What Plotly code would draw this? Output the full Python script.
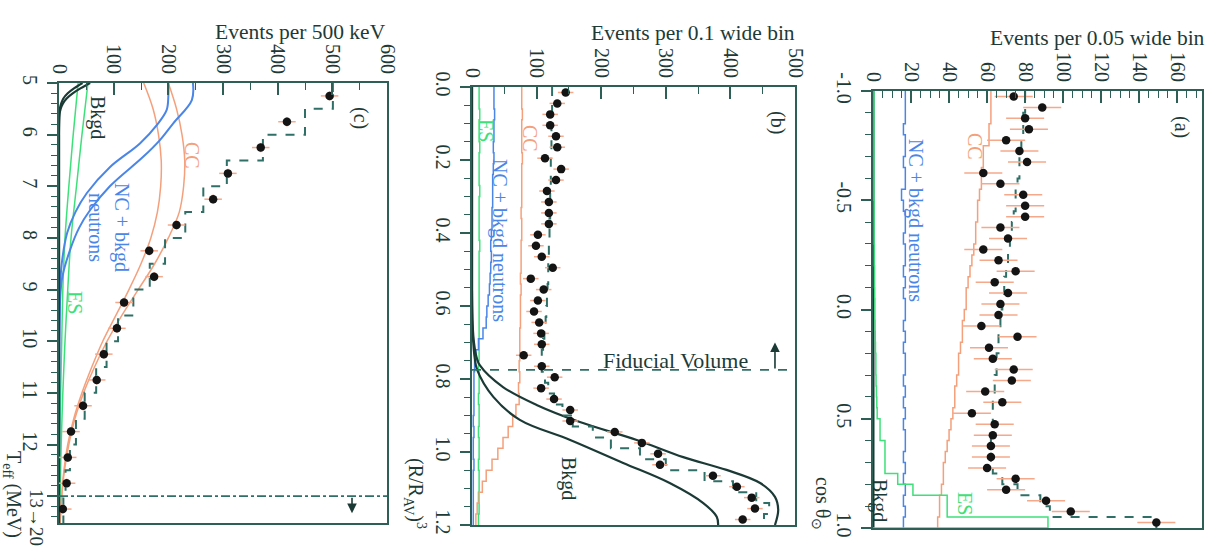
import numpy as np
import plotly.graph_objects as go

W, H = 1216, 552

# ---------------- Panel (c): kinetic energy spectrum ----------------
teff_edges = [5.0, 5.5, 6.0, 6.5, 7.0, 7.5, 8.0, 8.5, 9.0, 9.5, 10.0, 10.5, 11.0, 11.5, 12.0, 12.5, 13.0, 13.52]
teff_centers = [5.25, 5.75, 6.25, 6.75, 7.25, 7.75, 8.25, 8.75, 9.25, 9.75, 10.25, 10.75, 11.25, 11.75, 12.25, 12.75, 13.25]
teff_counts = [495, 417, 369, 309, 282, 215, 165, 174, 119, 106, 82, 69, 44, 22, 16, 14, 7]
teff_fit = [501, 450, 373, 307, 264, 231, 194, 166, 136, 108, 87, 68, 47, 31, 20, 12, 8]

bkgd_c_t = [5.0, 5.1, 5.2, 5.3, 5.4, 5.5, 5.6, 5.8, 6.0, 13.52]
bkgd_c_hi = [57, 40, 25, 14, 7, 3, 1, 0.2, 0, 0]
bkgd_c_lo = [43, 28, 16, 8, 4, 1.5, 0.5, 0.1, 0, 0]

nc_c_a_t = [5.0, 5.25, 5.52, 5.8, 6.17, 6.63, 7.13, 7.5, 7.9, 8.5, 9.0, 10.0, 13.52]
nc_c_a = [200, 200, 197, 180, 148, 93, 51, 30, 15, 5, 2, 0.5, 0]
nc_c_b_t = [5.0, 5.33, 5.78, 6.1, 6.43, 7.0, 7.46, 7.8, 8.24, 8.76, 9.2, 10.0, 13.52]
nc_c_b = [245, 243, 209, 185, 154, 93, 57, 37, 20, 6, 2, 0.5, 0]

cc_c_t = [5.0, 5.5, 6.0, 6.5, 7.0, 7.5, 8.0, 8.5, 9.0, 9.5, 10.0, 10.5, 11.0, 11.5, 12.0, 12.5, 13.0, 13.52]
cc_c_lo = [155, 172, 182, 187, 186, 180, 168, 150, 128, 104, 80, 60, 42, 27, 16, 9, 5, 2]
cc_c_hi = [200, 215, 225, 230, 228, 220, 200, 175, 145, 115, 88, 65, 45, 29, 18, 10, 5, 2]

es_c_t = [5.0, 6.0, 7.0, 8.0, 9.0, 10.0, 11.0, 12.0, 13.0, 13.52]
es_c_lo = [35, 26, 18, 11, 7, 5, 3, 1.5, 0.8, 0.5]
es_c_hi = [53, 42, 32, 22, 16, 11, 7, 4, 2, 1]

# ---------------- Panel (b): radial distribution ----------------
r_edges = [round(0.03 * i, 2) for i in range(41)]
r_counts = [145, 132, 121, 121, 130, 132, 113, 138, 130, 116, 119, 119, 119, 102, 99, 108, 125, 91, 111, 102,
            96, 104, 107, 108, 80, 108, 128, 107, 127, 152, 152, 221, 263, 288, 291, 373, 410, 433, 438, 419]
r_fit = [124, 124, 124, 123, 123, 123, 122, 122, 122, 121, 121, 121, 120, 120, 119, 119, 118, 118, 117, 116,
         115, 114, 112, 110, 108, 108, 113, 118, 127, 140, 156, 187, 215, 260, 300, 360, 404, 440, 460, 452]
es_b = [11, 11, 12, 11, 11, 12, 11, 11, 11, 12, 11, 11, 11, 11, 12, 11, 11, 11, 11, 11,
        11, 11, 11, 11, 11, 10, 11, 11, 10, 11, 11, 10, 11, 11, 10, 11, 11, 10, 11, 10]
nc_b = [34, 34, 35, 34, 34, 33, 34, 33, 32, 32, 32, 31, 31, 30, 29, 30, 29, 28, 27, 25,
        23, 22, 17, 10, 6, 4, 3, 3, 3, 3, 2, 3, 2, 2, 3, 2, 2, 2, 2, 2]
cc_b = [77, 77, 78, 77, 77, 77, 78, 77, 77, 77, 77, 76, 77, 77, 76, 76, 76, 75, 76, 75,
        75, 75, 74, 74, 74, 73, 74, 72, 73, 68, 63, 56, 48, 40, 31, 22, 16, 11, 8, 6]
bkgd_b_hi_r = [0.0, 0.55, 0.65, 0.70, 0.74, 0.762, 0.822, 0.871, 0.918, 0.967, 1.014, 1.049, 1.085, 1.123, 1.159, 1.2]
bkgd_b_hi = [0, 0, 1, 3, 7, 12, 48, 100, 167, 255, 327, 394, 446, 469, 474, 469]
bkgd_b_lo_r = [0.0, 0.55, 0.65, 0.70, 0.74, 0.775, 0.849, 0.912, 0.967, 1.03, 1.085, 1.14, 1.178, 1.2]
bkgd_b_lo = [0, 0, 0.5, 2, 4, 8, 33, 74, 152, 234, 306, 358, 379, 381]

# ---------------- Panel (a): angular distribution ----------------
cos_edges = [round(-1 + 0.05 * i, 2) for i in range(41)]
cos_counts = [74, 89, 80, 82, 70, 77, 81, 58, 67, 79, 80, 80, 67, 71, 58, 66, 75, 64, 71, 67,
              66, 57, 76, 61, 63, 74, 73, 59, 68, 52, 64, 63, 62, 62, 60, 75, 70, 91, 104, 149]
cos_fit = [80, 80, 79, 79, 78, 78, 77, 77, 76, 75, 75, 74, 73, 72, 72, 71, 70, 69, 69, 68,
           67, 67, 66, 66, 65, 65, 64, 64, 63, 63, 63, 62, 62, 62, 63, 68, 76, 88, 93, 149]
cc_a = [62, 62, 62, 61, 61, 58, 58, 57, 57, 56, 55, 55, 54, 54, 53, 52, 51, 50, 49, 49,
        48, 47, 47, 46, 45, 45, 44, 43, 43, 42, 41, 40, 39, 38, 37, 37, 36, 35, 35, 34]
nc_a = [17, 17, 17, 16, 17, 17, 16, 17, 17, 15, 16, 17, 17, 16, 17, 17, 16, 17, 16, 17,
        17, 16, 17, 16, 17, 17, 16, 17, 16, 17, 16, 17, 17, 16, 17, 16, 17, 16, 17, 16]
es_a = [0.5, 0.5, 0.5, 0.5, 0.5, 0.5, 0.5, 0.5, 0.5, 0.5, 0.6, 0.6, 0.6, 0.6, 0.7, 0.7, 0.8, 0.8, 0.9, 1.0,
        1.0, 1.1, 1.2, 1.3, 1.5, 1.5, 1.6, 1.8, 2.0, 2.2, 3.7, 3.7, 6.3, 6.3, 6.3, 13, 21, 39, 39, 92]
bkgd_a = [0.4] * 40

# ---------------- styling ----------------
FONT = "Liberation Serif"
TXT = "#1e3a36"
FRAME = "#2d5f57"
DATA = "#141414"
FITC = "#2f6f66"
ORANGE = "#f4a07c"
BLUE = "#4a86e8"
GREEN = "#3ee07a"
BLACK = "#1b3a35"
ERR = "#f6a88a"


def step(edges, vals):
    xs = list(vals) + [vals[-1]]
    ys = list(edges)
    return xs, ys


fig = go.Figure()


def add_line(x, y, color, width, xa, ya, dash="solid", shape="linear"):
    fig.add_trace(go.Scatter(x=x, y=y, mode="lines", xaxis=xa, yaxis=ya,
                             line=dict(color=color, width=width, dash=dash, shape=shape),
                             hoverinfo="skip", showlegend=False))


# Panel (c)
for xv, yv, col, w in [(es_c_lo, es_c_t, GREEN, 1.5), (es_c_hi, es_c_t, GREEN, 1.5),
                       (cc_c_lo, cc_c_t, ORANGE, 1.5), (cc_c_hi, cc_c_t, ORANGE, 1.5),
                       (nc_c_a, nc_c_a_t, BLUE, 2), (nc_c_b, nc_c_b_t, BLUE, 2),
                       (bkgd_c_lo, bkgd_c_t, BLACK, 2.2), (bkgd_c_hi, bkgd_c_t, BLACK, 2.2)]:
    add_line(xv, yv, col, w, "x", "y", shape="spline")
sx, sy = step(teff_edges, teff_fit)
add_line(sx, sy, FITC, 2, "x", "y", dash="dash", shape="vh")
fig.add_trace(go.Scatter(x=teff_counts, y=teff_centers, mode="markers", xaxis="x", yaxis="y",
                         marker=dict(color=DATA, size=8.5),
                         error_x=dict(type="constant", value=16, color=ERR, thickness=1.5, width=0),
                         error_y=dict(type="constant", value=0.09, color=ERR, thickness=1.5, width=0),
                         hoverinfo="skip", showlegend=False))

# Panel (b)
for vals, col in [(es_b, GREEN), (nc_b, BLUE), (cc_b, ORANGE)]:
    sx, sy = step(r_edges, vals)
    add_line(sx, sy, col, 1.5, "x2", "y2", shape="vh")
add_line(bkgd_b_lo, bkgd_b_lo_r, BLACK, 2.2, "x2", "y2", shape="spline")
add_line(bkgd_b_hi, bkgd_b_hi_r, BLACK, 2.2, "x2", "y2", shape="spline")
sx, sy = step(r_edges, r_fit)
add_line(sx, sy, FITC, 2, "x2", "y2", dash="dash", shape="vh")
r_centers = [(r_edges[i] + r_edges[i + 1]) / 2 for i in range(40)]
fig.add_trace(go.Scatter(x=r_counts, y=r_centers, mode="markers", xaxis="x2", yaxis="y2",
                         marker=dict(color=DATA, size=8.5),
                         error_x=dict(type="constant", value=12, color=ERR, thickness=1.5, width=0),
                         hoverinfo="skip", showlegend=False))

# Panel (a)
for vals, col in [(bkgd_a, BLACK), (nc_a, BLUE), (cc_a, ORANGE)]:
    sx, sy = step(cos_edges, vals)
    add_line(sx, sy, col, 1.5, "x3", "y3", shape="vh")
sx, sy = step(cos_edges, es_a)
add_line(sx + [0], sy + [1.0], GREEN, 1.5, "x3", "y3", shape="vh")
sx, sy = step(cos_edges, cos_fit)
add_line(sx, sy, FITC, 2, "x3", "y3", dash="dash", shape="vh")
cos_centers = [(cos_edges[i] + cos_edges[i + 1]) / 2 for i in range(40)]
fig.add_trace(go.Scatter(x=cos_counts, y=cos_centers, mode="markers", xaxis="x3", yaxis="y3",
                         marker=dict(color=DATA, size=8.5),
                         error_x=dict(type="constant", value=10, color=ERR, thickness=1.5, width=0),
                         hoverinfo="skip", showlegend=False))


def px(v):
    return v / W


def py(v):
    return 1 - v / H


tickfont = dict(family=FONT, size=20, color=TXT)


def xaxis(dom, rng, dtick, minor):
    return dict(domain=[px(dom[0]), px(dom[1])], range=rng, side="top", tickangle=90,
                dtick=dtick, tick0=0, ticks="inside", ticklen=12, tickwidth=1.5, tickcolor=FRAME,
                minor=dict(dtick=minor, ticks="inside", ticklen=7, tickwidth=1.2, tickcolor=FRAME),
                showline=True, mirror=True, linecolor=FRAME, linewidth=2, automargin=False,
                showgrid=False, zeroline=False, tickfont=tickfont, fixedrange=True)


def yaxis(dom, rng, tv, tt, minor, anchor):
    return dict(domain=[py(dom[1]), py(dom[0])], range=rng, tickvals=tv, ticktext=tt, tickangle=90,
                ticks="outside", ticklen=10, tickwidth=1.5, tickcolor=FRAME,
                minor=dict(dtick=minor, ticks="outside", ticklen=6, tickwidth=1.2, tickcolor=FRAME),
                showline=True, mirror=True, linecolor=FRAME, linewidth=2, anchor=anchor,
                automargin=False,
                showgrid=False, zeroline=False, tickfont=tickfont, fixedrange=True)


fig.update_layout(
    template="none",
    width=W, height=H, margin=dict(l=0, r=0, t=0, b=0, pad=0, autoexpand=False),
    paper_bgcolor="white", plot_bgcolor="white", showlegend=False,
    xaxis=dict(**xaxis((59, 387), [0, 600], 100, 50), anchor="y"),
    yaxis=yaxis((83, 523), [13.52, 5], [5, 6, 7, 8, 9, 10, 11, 12, 13],
                ["5", "6", "7", "8", "9", "10", "11", "12", ""], 0.2, "x"),
    xaxis2=dict(**xaxis((472, 795), [0, 500], 100, 50), anchor="y2"),
    yaxis2=yaxis((87, 525), [1.2, 0], [0, 0.2, 0.4, 0.6, 0.8, 1.0, 1.2],
                 ["0.0", "0.2", "0.4", "0.6", "0.8", "1.0", "1.2"], 0.05, "x2"),
    xaxis3=dict(**xaxis((873, 1202), [0, 173], 20, 5), anchor="y3"),
    yaxis3=yaxis((91, 528), [1.0, -1.0], [-1, -0.5, 0, 0.5, 1.0],
                 ["-1.0", "-0.5", "0.0", "0.5", "1.0"], 0.1, "x3"),
)

shapes = [
    dict(type="line", xref="x", yref="y", x0=0, x1=600, y0=13.0, y1=13.0,
         line=dict(color=FITC, width=1.8, dash="dashdot")),
    dict(type="line", xref="x2", yref="y2", x0=0, x1=500, y0=0.775, y1=0.775,
         line=dict(color=FITC, width=1.8, dash="dash")),
]
fig.update_layout(shapes=shapes)

ann = []


def text(xp, yp, s, color=TXT, angle=90, size=20):
    ann.append(dict(x=px(xp), y=py(yp), xref="paper", yref="paper", text=s, showarrow=False,
                    textangle=angle, xanchor="center", yanchor="middle",
                    font=dict(family=FONT, size=size, color=color)))


# axis titles (horizontal)
for xr, yp, s in [(388, 32, "Events per 500 keV"), (797, 33, "Events per 0.1 wide bin"),
                  (1207, 38, "Events per 0.05 wide bin")]:
    ann.append(dict(x=px(xr), y=py(yp), xref="paper", yref="paper", text=s, showarrow=False,
                    xanchor="right", yanchor="middle", font=dict(family=FONT, size=21.5, color=TXT)))

text(13, 494, "T<sub>eff</sub> (MeV)")
text(37, 517, "13→20", size=19)
text(415, 493, "(R/R<sub>AV</sub>)<sup>3</sup>")
text(822, 503, "cos θ<sub>⊙</sub>")

text(361, 118, "(c)")
text(777, 122, "(b)")
text(1182, 127, "(a)")

# panel (c) labels
text(97, 117, "Bkgd", BLACK)
text(192, 155, "CC", ORANGE)
text(109, 227, "NC + bkgd<br>neutrons", BLUE)
text(75, 302, "ES", GREEN)
# panel (b) labels
text(486, 130, "ES", GREEN)
text(530, 138, "CC", ORANGE)
text(499, 240, "NC + bkgd neutrons", BLUE)
text(569, 478, "Bkgd", BLACK)
ann.append(dict(x=px(675), y=py(360), xref="paper", yref="paper", text="Fiducial Volume",
                showarrow=False, xanchor="center", yanchor="middle",
                font=dict(family=FONT, size=22, color=TXT)))
# panel (a) labels
text(916, 220, "NC + bkgd neutrons", BLUE)
text(975, 146, "CC", ORANGE)
text(965, 503, "ES", GREEN)
text(880, 500, "Bkgd", BLACK)

# arrows
ann.append(dict(x=469, y=0.70, xref="x2", yref="y2", ax=469, ay=0.775, axref="x2", ayref="y2",
                showarrow=True, arrowhead=2, arrowsize=1.2, arrowwidth=1.6, arrowcolor=BLACK, text=""))
ann.append(dict(x=536, y=13.33, xref="x", yref="y", ax=536, ay=13.0, axref="x", ayref="y",
                showarrow=True, arrowhead=2, arrowsize=1.2, arrowwidth=1.6, arrowcolor=BLACK, text=""))

fig.update_layout(annotations=ann)

fig.write_html("out.html")
